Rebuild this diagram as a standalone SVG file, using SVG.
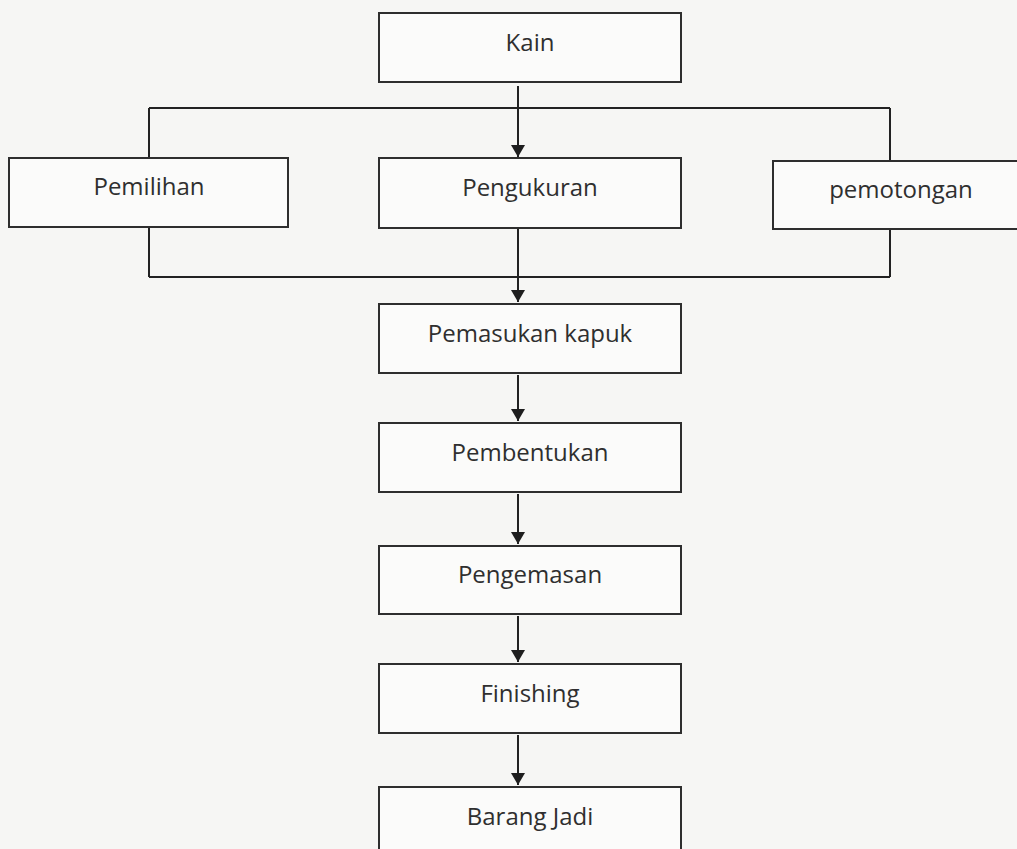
<svg xmlns="http://www.w3.org/2000/svg" width="1017" height="849" viewBox="0 0 1017 849">
  <style>
    .box { fill: #fbfbfa; stroke: #2e2e2e; stroke-width: 2; }
    .lbl { font-family: "Open Sans", "Liberation Sans", sans-serif; font-size: 24px; fill: #2f2f2f; text-anchor: middle; }
    .con { fill: none; stroke: #222; stroke-width: 2; }
  </style>
  <defs>
    <marker id="arr" viewBox="0 0 12 14" refX="12" refY="7" markerWidth="12" markerHeight="14" markerUnits="userSpaceOnUse" orient="auto">
      <path d="M0,0 L12,7 L0,14 Z" fill="#1e1e1e"/>
    </marker>
  </defs>
  <rect width="1017" height="849" fill="#f6f6f4"/>

  <g id="connectors">
    <path class="con" d="M518,86 V157" marker-end="url(#arr)"/>
    <path class="con" d="M149,108 H890"/>
    <path class="con" d="M149,108 V158 M149,227 V277 M890,108 V161 M890,229 V277"/>
    <path class="con" d="M149,277 H890"/>
    <path class="con" d="M518,229 V302" marker-end="url(#arr)"/>
    <path class="con" d="M518,375 V421" marker-end="url(#arr)"/>
    <path class="con" d="M518,494 V544" marker-end="url(#arr)"/>
    <path class="con" d="M518,616 V662" marker-end="url(#arr)"/>
    <path class="con" d="M518,735 V785" marker-end="url(#arr)"/>
  </g>

  <g id="kain">
    <rect class="box" x="379" y="13" width="302" height="69"/>
    <text class="lbl" x="530" y="51">Kain</text>
  </g>
  <g id="pemilihan">
    <rect class="box" x="9" y="158" width="279" height="69"/>
    <text class="lbl" x="149" y="195">Pemilihan</text>
  </g>
  <g id="pengukuran">
    <rect class="box" x="379" y="158" width="302" height="70"/>
    <text class="lbl" x="530" y="196">Pengukuran</text>
  </g>
  <g id="pemotongan">
    <rect class="box" x="773" y="161" width="260" height="68"/>
    <text class="lbl" x="901" y="198">pemotongan</text>
  </g>
  <g id="pemasukan-kapuk">
    <rect class="box" x="379" y="304" width="302" height="69"/>
    <text class="lbl" x="530" y="342">Pemasukan kapuk</text>
  </g>
  <g id="pembentukan">
    <rect class="box" x="379" y="423" width="302" height="69"/>
    <text class="lbl" x="530" y="461">Pembentukan</text>
  </g>
  <g id="pengemasan">
    <rect class="box" x="379" y="546" width="302" height="68"/>
    <text class="lbl" x="530" y="583">Pengemasan</text>
  </g>
  <g id="finishing">
    <rect class="box" x="379" y="664" width="302" height="69"/>
    <text class="lbl" x="530" y="702">Finishing</text>
  </g>
  <g id="barang-jadi">
    <rect class="box" x="379" y="787" width="302" height="80"/>
    <text class="lbl" x="530" y="825">Barang Jadi</text>
  </g>
</svg>
